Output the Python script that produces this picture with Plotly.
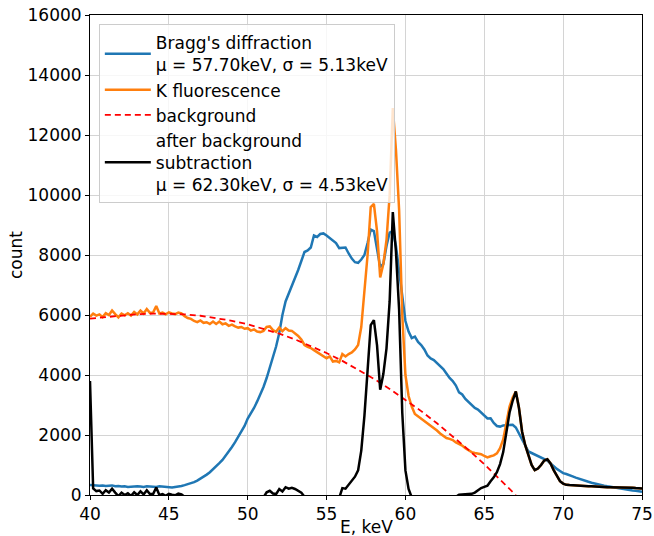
import numpy as np
import plotly.graph_objects as go

# Energy grid (keV), 0.2 keV bins
energy = np.round(np.arange(40.0, 75.0001, 0.2), 1)

bragg = [
    330, 320, 330, 310, 320, 300, 310, 320, 290, 300,
    280, 290, 270, 280, 270, 290, 280, 270, 290, 280,
    280, 270, 290, 280, 260, 270, 250, 270, 280, 300,
    330, 360, 400, 430, 480, 540, 600, 680, 760, 850,
    950, 1060, 1170, 1300, 1450, 1600, 1760, 1950, 2120, 2300,
    2550, 2720, 2900, 3120, 3350, 3600, 3900, 4250, 4600, 4950,
    5400, 6000, 6450, 6700, 6950, 7250, 7500, 7800, 8100, 8150,
    8250, 8650, 8600, 8700, 8720, 8650, 8560, 8480, 8400, 8230,
    8230, 8250, 8050, 7880, 7760, 7740, 7850, 8000, 8400, 8850,
    8800, 8200, 7600, 7700, 8300, 8750, 8800, 8300, 7400, 6500,
    5800, 5450, 5230, 5280, 5100, 5000, 4850, 4650, 4550, 4500,
    4400, 4300, 4200, 4050, 3900, 3800, 3650, 3420, 3350, 3200,
    3100, 3000, 2900, 2850, 2750, 2650, 2550, 2560, 2400, 2300,
    2280, 2320, 2330, 2330, 2340, 2250, 2050, 1850, 1650, 1450,
    1400, 1350, 1300, 1250, 1200, 1150, 1050, 950, 870, 800,
    730, 700, 650, 620, 580, 540, 500, 470, 440, 410,
    380, 360, 330, 310, 290, 270, 250, 230, 220, 200,
    180, 170, 150, 140, 130, 110,
]

k_fluor = [
    5940, 6050, 5980, 6020, 5930, 6060, 6000, 6150, 6030, 5920,
    6050, 5990, 6060, 5980, 6100, 6020, 6150, 6050, 6200, 6070,
    6080, 6300, 6050, 6080, 6020, 6090, 6050, 6030, 6080, 6050,
    5960, 5900, 5870, 5800, 5760, 5820, 5740, 5760, 5700, 5780,
    5700, 5780, 5690, 5720, 5640, 5680, 5620, 5580, 5600, 5540,
    5560, 5480, 5520, 5450, 5430, 5470, 5600, 5620, 5500, 5440,
    5580, 5460, 5560, 5480, 5470, 5390, 5300, 5180, 5000, 4940,
    4900, 4830, 4760, 4700, 4650, 4560, 4620, 4450, 4470, 4420,
    4700, 4620, 4700, 4750, 4850, 5000, 5600, 6700, 8000, 9600,
    9700, 8800, 7250, 7700, 8500, 10000, 12900, 11500, 9500, 6000,
    4000, 3300, 2950, 2700, 2620, 2550, 2480, 2400, 2330, 2250,
    2150, 2050, 1960, 1900, 1870, 1830, 1750, 1700, 1650, 1560,
    1480, 1430, 1400, 1380, 1360, 1300, 1250, 1290, 1320, 1390,
    1560, 1850, 2350, 2950, 3250, 3450, 2900, 2100, 1650, 1280,
    1000, 830, 880, 1000, 1150, 1190, 1050, 830, 620, 460,
    380, 340, 330, 320, 310, 310, 300, 300, 290, 290,
    280, 270, 270, 260, 260, 260, 260, 260, 250, 250,
    250, 240, 240, 230, 230, 220,
]

subtracted = [
    3800, 220, 130, 150, 40, 160, 80, 210, 80, -40,
    80, 0, 60, -30, 90, 0, 120, 20, 160, 30,
    30, 250, 0, 30, -30, 40, 10, -10, 50, 20,
    -60, -120, -140, -200, -230, -160, -220, -190, -240, -140,
    -200, -110, -180, -130, -190, -130, -170, -180, -140, -170,
    -130, -180, -110, -160, -150, -80, 90, 140, 50, 30,
    200, 120, 260, 210, 240, 200, 150, 80, -60, -80,
    -70, -100, -120, -130, -130, -170, -60, -180, -110, -100,
    230, 210, 340, 450, 610, 820, 1480, 2640, 4000, 5660,
    5830, 4990, 3510, 4030, 4890, 6460, 9430, 8100, 6170, 2740,
    820, 200, -80, -250, -260, -250, -240, -240, -230, -220,
    -240, -250, -260, -230, -180, -130, -60, 10, 20, 30,
    40, 40, 80, 160, 230, 270, 310, 460, 590, 760,
    1030, 1430, 2030, 2740, 3140, 3450, 2900, 2100, 1650, 1280,
    1000, 830, 880, 1000, 1150, 1190, 1050, 830, 620, 460,
    380, 340, 330, 320, 310, 310, 300, 300, 290, 290,
    280, 270, 270, 260, 260, 260, 260, 260, 250, 250,
    250, 240, 240, 230, 230, 220,
]

bg_energy = list(range(40, 68))
background = [
    5880, 5930, 5980, 6025, 6047, 6047, 6023, 5975, 5904, 5808,
    5689, 5545, 5378, 5187, 4971, 4732, 4470, 4183, 3872, 3537,
    3179, 2796, 2390, 1960, 1506, 1028, 526, 0,
]

names = [
    "Bragg's diffraction<br>μ = 57.70keV, σ = 5.13keV",
    "K fluorescence",
    "background",
    "after background<br>subtraction<br>μ = 62.30keV, σ = 4.53keV",
]

x_title = "E, keV"
y_title = "count"

FONT = "DejaVu Sans"
FS = 17

fig = go.Figure()
fig.add_trace(go.Scatter(x=energy, y=bragg, mode="lines", name=names[0],
                         line=dict(color="#1f77b4", width=2.5)))
fig.add_trace(go.Scatter(x=energy, y=k_fluor, mode="lines", name=names[1],
                         line=dict(color="#ff7f0e", width=2.5)))
fig.add_trace(go.Scatter(x=bg_energy, y=background, mode="lines", name=names[2],
                         line=dict(color="#ff0000", width=1.8, dash="6px,4px")))
fig.add_trace(go.Scatter(x=energy, y=subtracted, mode="lines", name=names[3],
                         line=dict(color="#000000", width=2.5)))

axis_common = dict(
    showline=True, linecolor="black", linewidth=1, mirror=True,
    ticks="outside", ticklen=4, tickcolor="black",
    showgrid=True, gridcolor="#d4d4d4", gridwidth=1,
    zeroline=False, automargin=False,
    tickfont=dict(family=FONT, size=FS, color="black"),
)

fig.update_layout(
    width=654, height=536,
    margin=dict(l=90, r=12, t=15, b=41),
    plot_bgcolor="white", paper_bgcolor="white",
    font=dict(family=FONT, size=FS, color="black"),
    xaxis=dict(range=[40, 75], dtick=5, **axis_common),
    yaxis=dict(range=[0, 16000], dtick=2000, tickformat="d",
               title=dict(text=y_title, font=dict(family=FONT, size=FS), standoff=0),
               **axis_common),
    legend=dict(x=0.016, y=0.981, xanchor="left", yanchor="top",
                bgcolor="rgba(255,255,255,0.8)", bordercolor="#cccccc", borderwidth=1,
                font=dict(family=FONT, size=FS, color="black"),
                tracegroupgap=0, itemwidth=46),
    showlegend=True,
    annotations=[dict(text=x_title, xref="paper", yref="paper", x=0.5, y=-0.067,
                      xanchor="center", yanchor="middle", showarrow=False,
                      font=dict(family=FONT, size=FS, color="black"))],
)

fig.write_html("out.html")
